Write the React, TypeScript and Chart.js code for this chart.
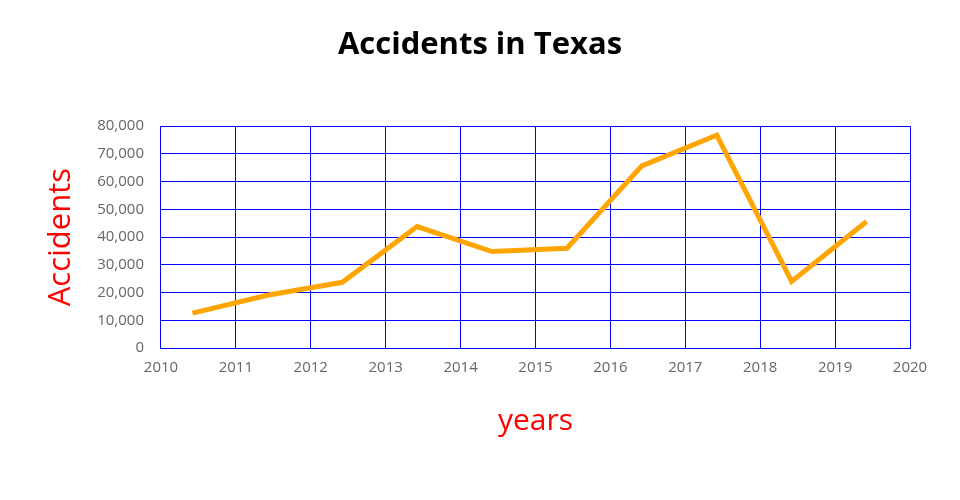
import React, { useEffect, useRef } from "react";
import { Chart, registerables } from "chart.js";

Chart.register(...registerables);

const years: number[] = [2010.42, 2011.42, 2012.42, 2013.42, 2014.42, 2015.42, 2016.42, 2017.42, 2018.42, 2019.42];
const accidents: number[] = [12600, 19000, 23700, 43800, 34800, 36000, 65700, 76800, 24000, 45600];
const xMin = 2010;
const xMax = 2020;
const yMin = 0;
const yMax = 80000;

export default function App() {
  const ref = useRef<HTMLCanvasElement | null>(null);
  useEffect(() => {
    if (!ref.current) return;
    const font = "'Open Sans', 'Noto Sans', sans-serif";
    const chart = new Chart(ref.current, {
      type: "line",
      data: {
        datasets: [
          {
            label: "Accidents",
            data: years.map((x, i) => ({ x, y: accidents[i] })),
            borderColor: "#FFA500",
            backgroundColor: "#FFA500",
            borderWidth: 5,
            pointRadius: 0,
            tension: 0,
            fill: false,
            yAxisID: "y",
          },
        ],
      },
      options: {
        responsive: false,
        animation: false,
        locale: "en-US",
        layout: { padding: { left: 0, right: 0, top: 0, bottom: 61 } },
        plugins: {
          legend: { display: false },
          tooltip: { enabled: false },
          title: {
            display: true,
            text: "Accidents in Texas",
            color: "#000",
            font: { family: font, size: 31, weight: "bold" },
            padding: { top: 27, bottom: 62 },
          },
        },
        scales: {
          x: {
            type: "linear",
            min: xMin,
            max: xMax,
            grid: { color: "#0000ff", lineWidth: 1, drawTicks: false },
            border: { color: "#0000ff", width: 1 },
            ticks: {
              stepSize: 1,
              padding: 11,
              color: "#666",
              font: { family: font, size: 15 },
              callback: (v: any) => String(v),
              maxRotation: 0,
            },
            title: {
              display: true,
              text: "years",
              color: "#ff0000",
              font: { family: font, size: 30 },
              padding: { top: 15, bottom: 0 },
            },
          },
          y: {
            min: yMin,
            max: yMax,
            grid: { color: "#0000ff", lineWidth: 1, drawTicks: false },
            border: { color: "#0000ff", width: 1 },
            ticks: {
              stepSize: 10000,
              padding: 17,
              color: "#666",
              font: { family: font, size: 15 },
            },
            title: {
              display: true,
              text: "Accidents",
              color: "#ff0000",
              font: { family: font, size: 31 },
              padding: { top: 43, bottom: 0 },
            },
          },
          spacer: {
            position: "right",
            display: true,
            grid: { display: false, drawOnChartArea: false, drawTicks: false },
            border: { display: false },
            ticks: { display: false },
            afterFit: (s: any) => {
              s.width = 50;
            },
          },
        },
      },
    });
    return () => chart.destroy();
  }, []);
  return (
    <canvas
      ref={ref}
      width={960}
      height={500}
      style={{ position: "absolute", left: 0, top: 0, width: 960, height: 500, display: "block" }}
    />
  );
}
